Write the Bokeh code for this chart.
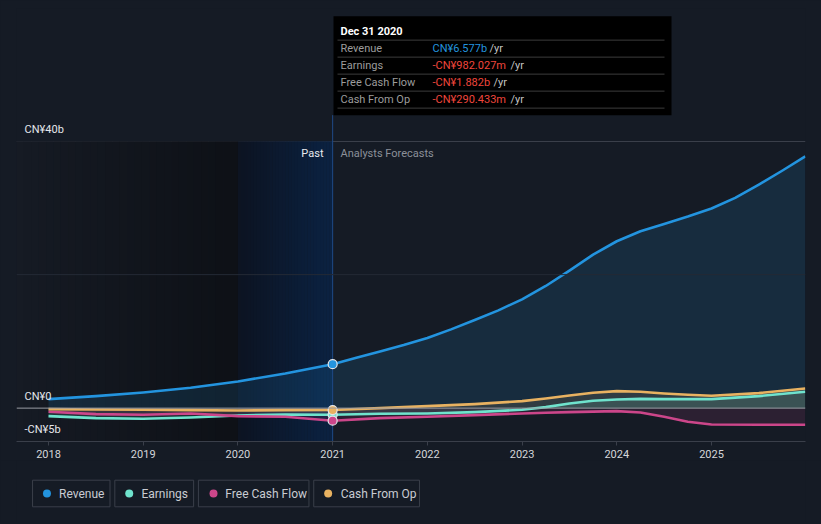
import numpy as np
from bokeh.plotting import figure
from bokeh.models import FixedTicker, Span, Range1d
from bokeh.layouts import column
from bokeh.embed import file_html
from bokeh.resources import INLINE
from bokeh.core.properties import value
from bokeh.core.templates import get_env

# ---------------- data (CN¥ billions) ----------------
years_rev = [2018.0, 2018.5, 2019.0, 2019.5, 2020.0, 2020.5, 2021.0, 2021.25, 2021.5, 2021.75,
             2022.0, 2022.25, 2022.5, 2022.75, 2023.0, 2023.25, 2023.5, 2023.75, 2024.0,
             2024.25, 2024.5, 2024.75, 2025.0, 2025.25, 2025.5, 2025.75, 2025.99]
revenue = [1.35, 1.8, 2.35, 3.05, 4.0, 5.2, 6.577, 7.55, 8.5, 9.45,
           10.5, 11.8, 13.2, 14.65, 16.3, 18.3, 20.6, 23.0, 25.0,
           26.5, 27.6, 28.7, 29.9, 31.5, 33.5, 35.6, 37.7]

years = [2018.0, 2018.5, 2019.0, 2019.5, 2020.0, 2020.5, 2021.0, 2021.5, 2022.0,
         2022.5, 2023.0, 2023.25, 2023.5, 2023.75, 2024.0, 2024.25, 2024.5, 2024.75,
         2025.0, 2025.5, 2025.99]
earnings = [-1.2, -1.5, -1.6, -1.4, -1.1, -0.95, -0.982, -0.85, -0.8,
            -0.6, -0.25, 0.15, 0.7, 1.1, 1.3, 1.38, 1.35, 1.35,
            1.35, 1.8, 2.45]
free_cash_flow = [-0.55, -0.9, -1.0, -0.8, -1.2, -1.3, -1.882, -1.5, -1.3,
                  -1.05, -0.8, -0.7, -0.6, -0.52, -0.45, -0.65, -1.3, -2.05,
                  -2.45, -2.5, -2.5]
cash_from_op = [-0.15, -0.2, -0.25, -0.3, -0.35, -0.3, -0.290, 0.0, 0.3,
                0.6, 1.05, 1.45, 1.9, 2.3, 2.55, 2.45, 2.2, 2.0,
                1.85, 2.25, 2.95]

tick_years = [2018, 2019, 2020, 2021, 2022, 2023, 2024, 2025]
y_tick_values = [40, 0, -5]
y_tick_labels = ["CN¥40b", "CN¥0", "-CN¥5b"]

series_names = ["Revenue", "Earnings", "Free Cash Flow", "Cash From Op"]
series_colors = ["#2394df", "#6fe3cd", "#cc468a", "#e8b261"]

hover_date = "Dec 31 2020"
hover_x = 2021.0
hover_values = ["CN¥6.577b", "-CN¥982.027m", "-CN¥1.882b", "-CN¥290.433m"]
hover_points = [6.577, -0.982, -1.882, -0.290]

# ---------------- layout helpers ----------------
BG = "#151b25"
FONT = value("Roboto")
XS = 663 / 7.0     # px per year
YS = 6.675         # px per CN¥b
x0 = 2018 - 32 / XS
x1 = x0 + 789 / XS
y0 = -5.0
y1 = y0 + 433 / YS


def px2x(px):
    return x0 + (px - 16) / XS


def py2y(py):
    return (408 - py) / YS


p = figure(frame_width=789, frame_height=433,
           x_range=Range1d(x0, x1), y_range=Range1d(y0, y1),
           output_backend="svg", toolbar_location=None,
           y_axis_location=None,
           min_border_left=16, min_border_right=16, min_border_top=8, min_border_bottom=0,
           background_fill_color=BG, border_fill_color=BG, outline_line_color=None)

p.xgrid.visible = False
p.ygrid.ticker = FixedTicker(ticks=[40])
p.ygrid.grid_line_color = "#3a3f4a"
p.ygrid.grid_line_width = 1

ax = p.xaxis[0]
ax.ticker = FixedTicker(ticks=tick_years)
ax.major_label_overrides = {t: str(t) for t in tick_years}
ax.axis_line_color = "#3a3f4a"
ax.major_tick_line_color = "#3a3f4a"
ax.major_tick_in = 0
ax.major_tick_out = 4
ax.minor_tick_line_color = None
ax.major_label_text_color = "#d4d6da"
ax.major_label_text_font = "Roboto"
ax.major_label_text_font_size = "11px"
ax.major_label_standoff = 4

# past shading (gradient strips)
n = 30
edges = np.linspace(x0, 2020.0, n + 1)
c_a = np.array([22, 27, 36])
c_b = np.array([14, 17, 23])
cols = ["#%02x%02x%02x" % tuple((c_a + (c_b - c_a) * (i / (n - 1))).astype(int)) for i in range(n)]
p.quad(left=edges[:-1], right=edges[1:] + 0.002, top=40, bottom=-5, fill_color=cols, line_color=None)
edges = np.linspace(2020.0, 2021.0, n + 1)
c_a = np.array([13, 20, 34])
c_b = np.array([11, 34, 66])
cols = ["#%02x%02x%02x" % tuple((c_a + (c_b - c_a) * (i / (n - 1))).astype(int)) for i in range(n)]
p.quad(left=edges[:-1], right=edges[1:] + 0.002, top=40, bottom=-5, fill_color=cols, line_color=None)

# faint 20b gridline
p.add_layout(Span(location=20, dimension="width", line_color="#242a35", line_width=1))

# area fills
p.varea(x=years_rev, y1=0, y2=revenue, fill_color=series_colors[0], fill_alpha=0.14)
p.varea(x=years, y1=0, y2=earnings, fill_color=series_colors[1], fill_alpha=0.14)
p.varea(x=years, y1=0, y2=free_cash_flow, fill_color=series_colors[2], fill_alpha=0.13)
p.varea(x=years, y1=0, y2=cash_from_op, fill_color=series_colors[3], fill_alpha=0.12)

# zero line
p.add_layout(Span(location=0, dimension="width", line_color="#9a9ca3", line_width=1))

# hover vertical line
p.segment(x0=[hover_x], y0=[-5], x1=[hover_x], y1=[py2y(115)], line_color="#1f4a86", line_width=1)

# lines
p.line(years, earnings, line_color=series_colors[1], line_width=2.6, line_join="round")
p.line(years, free_cash_flow, line_color=series_colors[2], line_width=2.6, line_join="round")
p.line(years, cash_from_op, line_color=series_colors[3], line_width=2.6, line_join="round")
p.line(years_rev, revenue, line_color=series_colors[0], line_width=2.6, line_join="round")

# hover markers
order = [1, 3, 2, 0]
p.scatter(x=[hover_x] * 4, y=[hover_points[i] for i in order], size=9,
          fill_color=[series_colors[i] for i in order], line_color="#e4e6ea", line_width=1.2)

# y labels
p.text(x=[px2x(24)] * 3, y=y_tick_values, text=y_tick_labels, y_offset=-12,
       text_font=FONT, text_font_size="11px", text_color="#e4e6ea",
       text_baseline="middle", text_align="left")

# past / forecast labels
p.text(x=[px2x(323)], y=[py2y(153)], text=["Past"], text_font=FONT, text_font_size="11px",
       text_color="#e8eaee", text_baseline="middle", text_align="right")
p.text(x=[px2x(340)], y=[py2y(153)], text=["Analysts Forecasts"], text_font=FONT,
       text_font_size="11px", text_color="#8b9099", text_baseline="middle", text_align="left")

# tooltip box
p.quad(left=[px2x(333)], right=[px2x(671)], top=[py2y(16)], bottom=[py2y(115)],
       fill_color="#000000", line_color=None)
sep_y = [py2y(v) for v in [40, 57, 74, 91, 108]]
p.segment(x0=[px2x(337)] * 5, y0=sep_y, x1=[px2x(664)] * 5, y1=sep_y, line_color="#3c3c3c", line_width=1)
p.text(x=[px2x(340)], y=[py2y(31)], text=[hover_date], text_font=FONT, text_font_size="11px",
       text_color="#ffffff", text_font_style="bold", text_baseline="middle")
row_y = [py2y(v) for v in [48, 65, 82, 99]]
p.text(x=[px2x(340)] * 4, y=row_y, text=series_names, text_font=FONT, text_font_size="11px",
       text_color="#9c9c9c", text_baseline="middle")
val_colors = ["#2394df", "#f0463c", "#f0463c", "#f0463c"]
p.text(x=[px2x(432)] * 4, y=row_y, text=hover_values, text_font=FONT, text_font_size="11px",
       text_color=val_colors, text_baseline="middle")
yr_x = [px2x(v) for v in [489, 510, 493, 510]]
p.text(x=yr_x, y=row_y, text=["/yr"] * 4, text_font=FONT, text_font_size="11px",
       text_color="#c4c4c4", text_baseline="middle")

# ---------------- legend figure ----------------
LH = 62
lg = figure(width=821, height=LH, x_range=Range1d(0, 821), y_range=Range1d(0, LH),
            output_backend="svg", toolbar_location=None,
            x_axis_location=None, y_axis_location=None, min_border=0,
            background_fill_color=BG, border_fill_color=BG, outline_line_color=None)
lg.grid.visible = False
box_l = [16.7, 102.3, 189.3, 309.3]
box_r = [97.3, 184.3, 304.3, 419.3]
dot_x = [31.7, 117.3, 205.0, 324.3]
txt_x = [44.3, 130.0, 217.3, 337.3]
lg.quad(left=box_l, right=box_r, top=42.3, bottom=15.7, fill_color=BG,
        line_color="#3a3f4a", line_width=1)
lg.scatter(x=dot_x, y=[29] * 4, size=8, fill_color=series_colors, line_color=None)
lg.text(x=txt_x, y=[29] * 4, text=series_names, text_font=FONT, text_font_size="12px",
        text_color="#c9ccd2", text_baseline="middle", text_align="left")

layout = column(p, lg, spacing=0, styles={"background-color": BG})

tmpl = get_env().from_string(
    "{% extends base %}\n{% block preamble %}<style>html, body { background-color: "
    + BG + "; }</style>{% endblock %}")
open("out.html", "w").write(file_html(layout, INLINE, title="chart", template=tmpl))
